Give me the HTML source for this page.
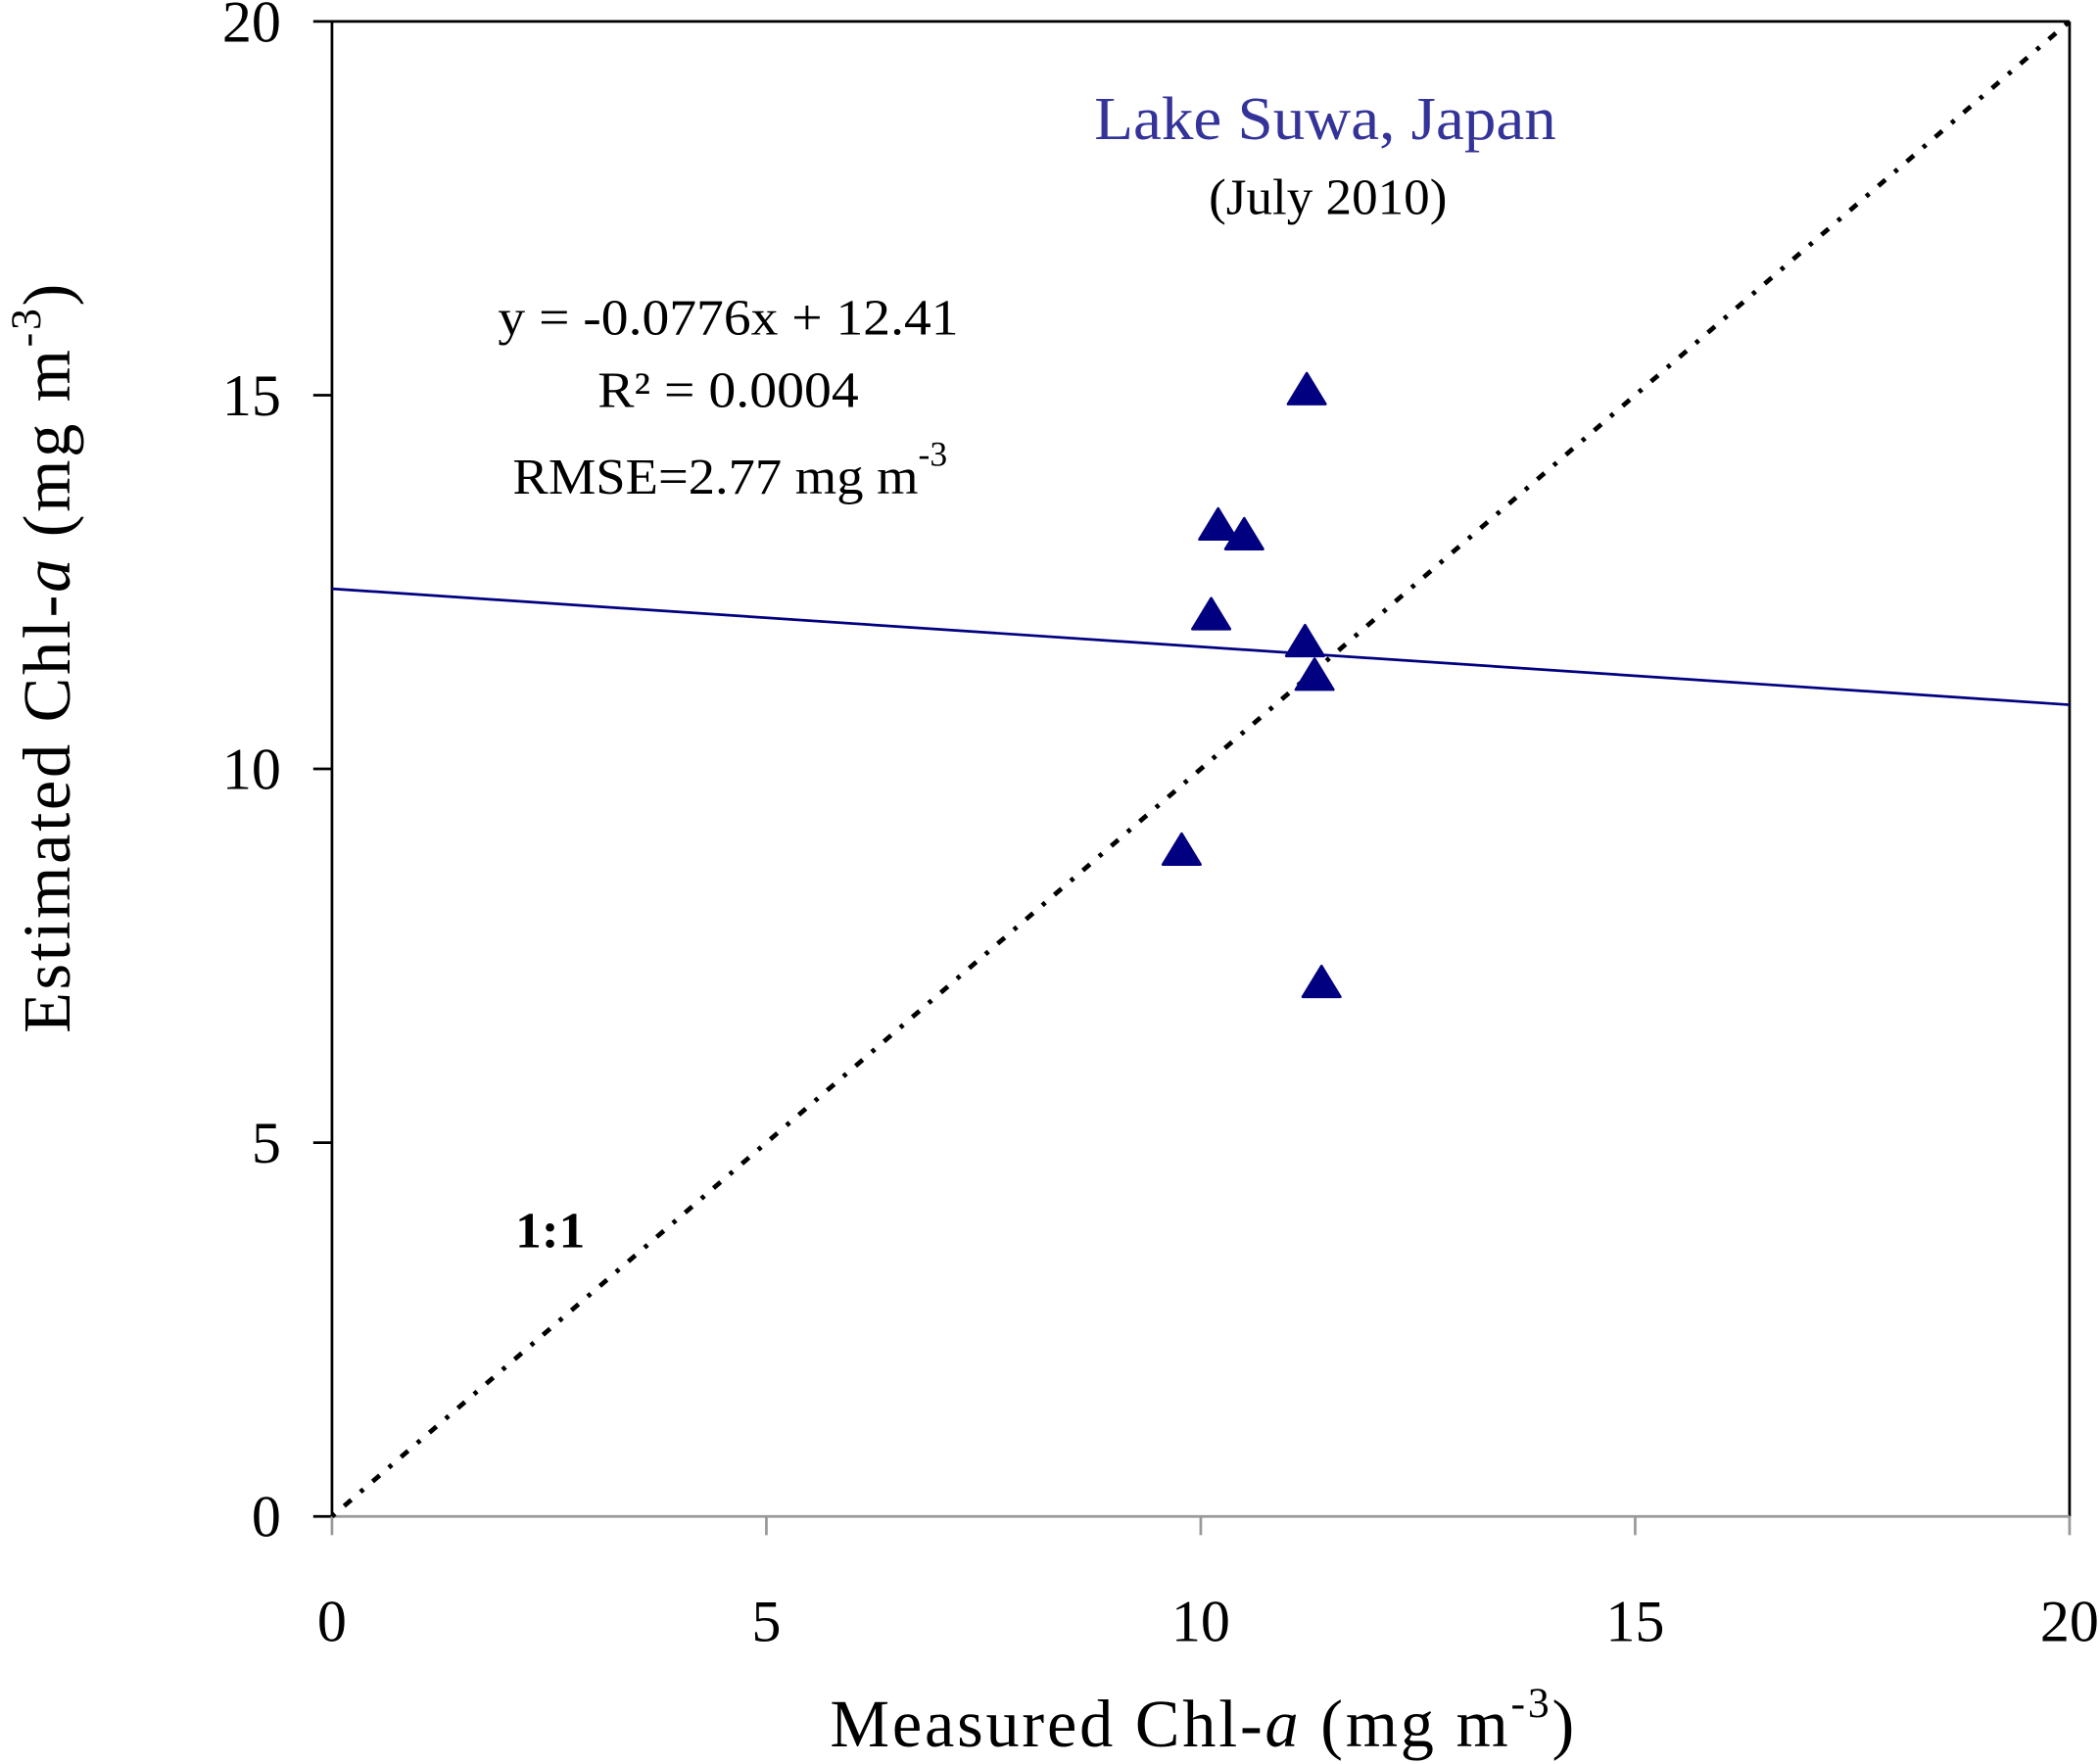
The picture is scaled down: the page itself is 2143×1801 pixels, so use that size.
<!DOCTYPE html>
<html><head><meta charset="utf-8"><style>html,body{margin:0;padding:0;background:#fff}svg{display:block}text{font-family:"Liberation Serif",serif}</style></head>
<body>
<svg id="chart" width="2143" height="1801" viewBox="0 0 1568 1318" preserveAspectRatio="none" xmlns="http://www.w3.org/2000/svg">
<g id="plot"></g>
<text x="990" y="104" font-size="46" fill="#333399" text-anchor="middle" textLength="345" lengthAdjust="spacingAndGlyphs">Lake Suwa, Japan</text>
<text x="992" y="160" font-size="38" text-anchor="middle" textLength="178" lengthAdjust="spacingAndGlyphs">(July 2010)</text>
<text x="544" y="250" font-size="38" text-anchor="middle" textLength="344" lengthAdjust="spacingAndGlyphs">y = -0.0776x + 12.41</text>
<text x="544" y="304" font-size="38" text-anchor="middle" textLength="195" lengthAdjust="spacingAndGlyphs">R² = 0.0004</text>
<text x="383" y="369" font-size="38" textLength="303" lengthAdjust="spacingAndGlyphs">RMSE=2.77 mg m</text>
<text x="686" y="348" font-size="26">-3</text>
<text x="385" y="932" font-size="38" font-weight="bold" textLength="52" lengthAdjust="spacingAndGlyphs">1:1</text>
<text x="620" y="1305" font-size="50" textLength="556" lengthAdjust="spacing">Measured Chl-<tspan font-style="italic">a</tspan>  (mg m<tspan font-size="32" dy="-22">-3</tspan><tspan dy="22">)</tspan></text>
<text transform="translate(52,772) rotate(-90)" font-size="50" textLength="560" lengthAdjust="spacing">Estimated Chl-<tspan font-style="italic">a</tspan>  (mg m<tspan font-size="32" dy="-22">-3</tspan><tspan dy="22">)</tspan></text>
</svg>
<script>
const xTicks = [0, 5, 10, 15, 20];
const yTicks = [0, 5, 10, 15, 20];
const measured = [11.22, 10.2, 10.5, 10.12, 11.2, 11.31, 9.78, 11.39];
const estimated = [15.06, 13.25, 13.12, 12.05, 11.69, 11.24, 8.9, 7.13];
const slope = -0.0776;
const intercept = 12.41;

const L = 248, R = 1546, T = 16, B = 1133;
const sx = v => L + (v - 0) / 20 * (R - L);
const sy = v => B - (v - 0) / 20 * (B - T);
const NS = 'http://www.w3.org/2000/svg';
const g = document.getElementById('plot');
function mk(tag, attrs) { const e = document.createElementNS(NS, tag); for (const k in attrs) e.setAttribute(k, attrs[k]); g.appendChild(e); return e; }

let e;
e = mk('line', {x1: L, y1: T, x2: R, y2: T, stroke: '#000', 'stroke-width': 2});


e = mk('line', {x1: R, y1: T, x2: R, y2: B, stroke: '#000', 'stroke-width': 2});


e = mk('line', {x1: L, y1: T, x2: L, y2: B, stroke: '#000', 'stroke-width': 2});


e = mk('line', {x1: L, y1: B, x2: R, y2: B, stroke: '#999', 'stroke-width': 2});



yTicks.forEach(v => {
  const t = mk('line', {x1: L - 14, y1: sy(v), x2: L, y2: sy(v), stroke: '#000', 'stroke-width': 2});
  
  
  const l = mk('text', {x: 210, y: sy(v) + 15, 'font-size': 44, 'text-anchor': 'end'});
  l.textContent = v;
  
  
});
xTicks.forEach(v => {
  const t = mk('line', {x1: sx(v), y1: B, x2: sx(v), y2: B + 14, stroke: '#999', 'stroke-width': 2});
  
  
  const l = mk('text', {x: sx(v), y: 1226, 'font-size': 44, 'text-anchor': 'middle'});
  l.textContent = v;
  
  
});

e = mk('line', {x1: sx(0), y1: sy(0), x2: sx(20), y2: sy(20), stroke: '#000', 'stroke-width': 3.5, 'stroke-dasharray': '3 9 7 9'});


e = mk('line', {x1: sx(0), y1: sy(intercept), x2: sx(20), y2: sy(intercept + slope * 20), stroke: '#000080', 'stroke-width': 2});



measured.forEach((m, i) => {
  const cx = sx(m), cy = sy(estimated[i]);
  const p = mk('polygon', {points: `${cx},${cy - 13} ${cx - 14},${cy + 10} ${cx + 14},${cy + 10}`, fill: '#000080', stroke: '#000080', 'stroke-width': 2, 'stroke-linejoin': 'round'});
  
  
});
</script>
</body></html>
